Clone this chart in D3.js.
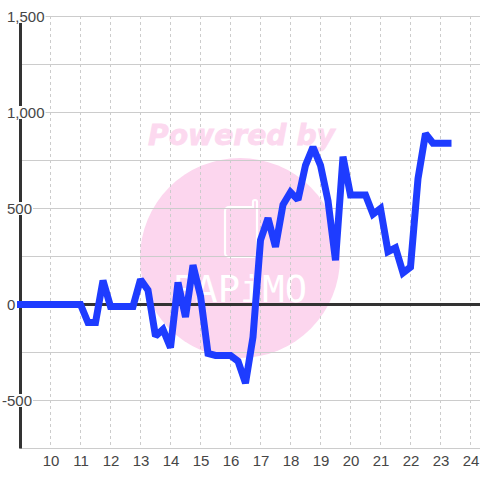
<!DOCTYPE html>
<html><head><meta charset="utf-8">
<script src="https://cdn.jsdelivr.net/npm/d3@7"></script>
<style>html,body{margin:0;padding:0;background:#fff}svg{display:block}text{font-family:"Liberation Sans",Arial,sans-serif}</style>
</head><body><svg id="c" width="480" height="480"></svg>
<script>
const xTicks = [10,11,12,13,14,15,16,17,18,19,20,21,22,23,24];
const yTicks = [-500,0,500,1000,1500];
const yGrid = [-750,-500,-250,0,250,500,750,1000,1250,1500];
const hours = [9,9.25,9.5,9.75,10,10.25,10.5,10.75,11,11.25,11.5,11.75,12,12.25,12.5,12.75,13,13.25,13.5,13.75,14,14.25,14.5,14.75,15,15.25,15.5,15.75,16,16.25,16.5,16.75,17,17.25,17.5,17.75,18,18.25,18.5,18.75,19,19.25,19.5,19.75,20,20.25,20.5,20.75,21,21.25,21.5,21.75,22,22.25,22.5,22.75,23,23.25];
const values = [0,0,0,0,0,0,0,0,0,-94,-94,125,-10,-10,-10,-10,130,75,-165,-130,-225,115,-65,205,45,-255,-265,-265,-265,-295,-410,-170,335,450,300,520,585,545,725,820,725,540,230,770,570,570,570,470,500,275,295,165,195,655,890,840,840,840];
const svg = d3.select("#c");
const x = d3.scaleLinear().domain([9,25]).range([20.5,500.5]);
const y = d3.scaleLinear().domain([1500,-750]).range([16.5,448.5]);
const R = 480;

// watermark
const wm = svg.append("g");
wm.append("circle").attr("cx",240).attr("cy",258).attr("r",100).attr("fill","#fcd6ee");
wm.append("text").attr("x",241.5).attr("y",145).attr("text-anchor","middle")
  .attr("textLength",187).attr("lengthAdjust","spacingAndGlyphs")
  .style("font-family","'DejaVu Sans'").style("font-weight","bold").style("font-style","italic")
  .style("font-size","29px").attr("fill","#fcd9ef").attr("stroke","#fcd9ef").attr("stroke-width",0.8).text("Powered by");
wm.append("path").attr("d","M229 207H253V202a2 2 0 0 1 4 0V253a4 4 0 0 1 -4 4H229a4 4 0 0 1 -4 -4V211a4 4 0 0 1 4 -4Z")
  .attr("fill","none").attr("stroke","#fff").attr("stroke-width",2.2);
wm.append("text").attr("x",240).attr("y",302).attr("text-anchor","middle")
  .attr("textLength",134).attr("lengthAdjust","spacingAndGlyphs")
  .style("font-family","'DejaVu Sans Mono'").style("font-size","38px").attr("fill","#fff").text("PAPiMO");

// grid
svg.append("g").selectAll("line").data(yGrid).join("line")
  .attr("x1",20).attr("x2",R).attr("y1",d=>y(d)).attr("y2",d=>y(d))
  .attr("stroke","#cccccc").attr("stroke-width",1);
svg.append("g").selectAll("line").data(xTicks).join("line")
  .attr("x1",d=>x(d)).attr("x2",d=>x(d)).attr("y1",16).attr("y2",448)
  .attr("stroke","#cccccc").attr("stroke-width",1).attr("stroke-dasharray","3,3");

// axes
svg.append("line").attr("x1",20.5).attr("x2",20.5).attr("y1",16).attr("y2",448.5).attr("stroke","#333").attr("stroke-width",3);
svg.append("line").attr("x1",20).attr("x2",R).attr("y1",y(0)).attr("y2",y(0)).attr("stroke","#333").attr("stroke-width",3);

// series
const line = d3.line().x((d,i)=>x(hours[i])).y(d=>y(d));
svg.append("path").attr("d",line(values)).attr("fill","none")
  .attr("stroke","#1e3cff").attr("stroke-width",7).attr("stroke-linecap","square")
  .attr("stroke-linejoin","miter").attr("stroke-miterlimit",2);

// y labels on a white backing
const labels = svg.append("g").attr("opacity",0.99);
const yl = labels.append("g").selectAll("g").data(yTicks).join("g");
yl.append("text").attr("x",d=>d<0?2:7).attr("y",d=>y(d)+5.5)
  .style("font-size","15px").attr("fill","#444")
  .text(d=>d3.format(",")(d).replace("\u2212","-"));
yl.insert("rect","text").each(function(d){
  const b=this.parentNode.querySelector("text").getBBox();
  d3.select(this).attr("x",b.x-1).attr("y",y(d)-6.5).attr("width",b.width+2).attr("height",13).attr("fill","#fff");
});
// x labels
labels.append("g").selectAll("text").data(xTicks).join("text")
  .attr("x",d=>x(d)+0.5).attr("y",466).attr("text-anchor","middle")
  .style("font-size","15px").attr("fill","#444").text(d=>d);
</script></body></html>
